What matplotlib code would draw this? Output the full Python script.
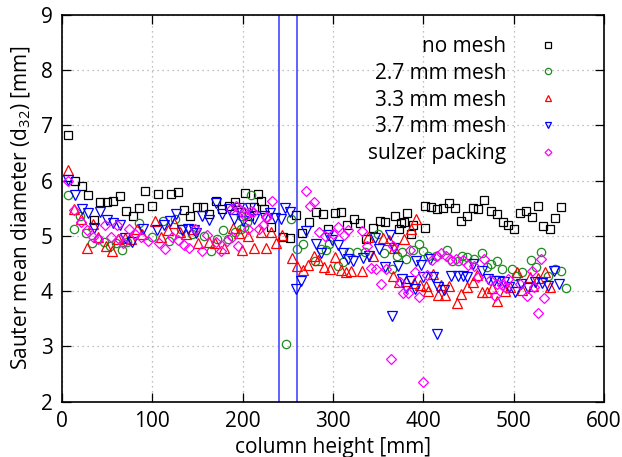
import matplotlib
matplotlib.use("Agg")
import matplotlib.pyplot as plt
from matplotlib.lines import Line2D

plt.rcParams['font.family'] = ['Open Sans', 'DejaVu Sans']
plt.rcParams['mathtext.fontset'] = 'custom'
plt.rcParams['mathtext.rm'] = 'Open Sans'

# ---------------- data ----------------
no_mesh_x = [7, 14, 22, 28.5, 35.5, 42.5, 49.5, 57, 64, 70.7, 78.5, 85.5, 92, 99.6, 106.7,
             120.7, 128, 135, 142, 149, 156, 163, 170, 177, 184.4, 191.5, 198.5, 203, 207, 212.6,
             217, 220, 223.7, 231, 244.4, 252, 259, 266, 273.7, 281, 288.5, 295, 302, 309, 316,
             323, 330, 337, 344, 351.5, 358, 369, 373, 375.5, 379, 382, 386.7, 388.5, 401.5, 401.5,
             409, 415.5, 422, 428, 435, 441.5, 448, 454.5, 460.7, 467.4, 474.4, 481, 488, 494, 500.7,
             507, 513.7, 520, 526.7, 533, 539.7, 546, 552.6]
no_mesh_y = [6.82, 6.0, 5.91, 5.74, 5.29, 5.61, 5.61, 5.63, 5.73, 5.45, 5.36, 5.51, 5.82, 5.54, 5.76,
             5.76, 5.79, 5.47, 5.36, 5.53, 5.53, 5.39, 5.63, 5.49, 5.55, 5.61, 5.43, 5.77, 5.37, 5.52,
             5.76, 5.63, 5.48, 5.17, 4.99, 4.97, 5.38, 5.05, 5.25, 5.43, 5.40, 5.13, 5.41, 5.44, 5.2,
             5.31, 5.24, 4.95, 5.15, 5.28, 5.25, 5.37, 5.13, 5.23, 5.25, 5.41, 5.04, 5.19, 5.14, 5.54,
             5.52, 5.49, 5.50, 5.59, 5.50, 5.27, 5.37, 5.51, 5.48, 5.65, 5.45, 5.40, 5.25, 5.2, 5.13,
             5.42, 5.46, 5.34, 5.55, 5.18, 5.13, 5.32, 5.53]

mesh27_x = [7, 13.7, 20, 26.7, 33.7, 40.4, 47, 53.3, 59.7, 66.3, 72, 85.5, 99.6, 111.5, 119,
            124.8, 132, 144, 157, 165, 172, 178, 184, 191, 198, 198, 201.5, 205, 209, 248,
            253, 260, 267, 280, 286.7, 292, 296, 305, 311.5, 317.4, 326.7, 335.5, 349.6, 357, 365.5,
            371, 376.7, 381, 388.5, 395, 399.6, 405, 414.4, 426.7, 432, 438.5, 443, 448, 456, 464.4,
            470, 474.8, 481, 486.7, 497.8, 503, 509, 519, 525, 530, 538.5, 546, 552.6, 557.8]
mesh27_y = [5.75, 5.13, 5.37, 5.05, 4.87, 4.95, 4.89, 4.81, 4.87, 4.75, 4.89, 5.23, 4.98, 5.28, 4.90,
            5.31, 5.13, 5.04, 5.0, 4.73, 4.95, 5.10, 4.95, 5.07, 5.13, 5.36, 5.17, 5.25, 5.75, 3.05,
            5.31, 4.76, 4.85, 4.54, 4.76, 4.75, 4.85, 4.46, 4.52, 4.71, 4.71, 4.71, 5.04, 4.70, 4.41,
            4.64, 4.71, 4.58, 4.75, 4.85, 4.73, 4.63, 4.63, 4.75, 4.55, 4.55, 4.63, 4.62, 4.58, 4.69,
            4.43, 4.49, 4.55, 4.40, 4.41, 4.28, 4.34, 4.57, 4.43, 4.71, 4.28, 4.40, 4.37, 4.05]

mesh33_x = [7, 13.7, 21, 27.8, 34.8, 40.4, 48.5, 55, 62, 70, 76.7, 83, 88.5, 102.6, 110,
            117.4, 123.7, 131, 137.4, 145, 151, 162.6, 169, 179, 189, 196, 199, 206, 212.6,
            220, 225.6, 231, 237.4, 244, 254.4, 260.7, 266.5, 272.6, 278.5, 283.7, 290.4, 296.5,
            302.6, 308.5, 314.4, 320, 332, 338.5, 344, 355.5, 362.3, 368, 379, 386.5, 391.7, 366.5,
            373.5, 381, 389.5, 396.3, 403.3, 405, 410.7, 416, 420, 423.7, 428.7, 437.8, 442, 448,
            455, 459, 464.4, 470, 475.6, 482, 490.2, 496, 504, 509, 518, 521, 526.7, 535, 540]
mesh33_y = [6.2, 5.49, 5.31, 4.78, 5.21, 4.98, 4.82, 4.72, 4.95, 4.96, 4.95, 5.13, 5.04, 5.28, 4.98,
            5.10, 5.23, 5.08, 5.04, 5.13, 4.87, 4.89, 4.87, 4.78, 5.14, 5.06, 4.75, 5.0, 4.78,
            5.07, 4.79, 5.08, 4.87, 5.01, 4.60, 4.45, 4.39, 4.48, 4.64, 4.57, 4.44, 4.41,
            4.62, 4.38, 4.34, 4.36, 4.36, 4.99, 4.64, 4.97, 4.93, 4.79, 4.95, 5.13, 5.31, 4.28,
            4.17, 4.19, 4.15, 4.12, 4.09, 4.01, 4.31, 3.93, 4.12, 3.93, 4.10, 3.79, 3.95, 4.07,
            4.17, 4.29, 3.98, 3.98, 4.05, 3.82, 4.01, 4.07, 4.35, 4.03, 4.25, 4.10, 4.24, 4.35, 4.07]

mesh37_x = [7, 14.4, 21.9, 28.5, 35.9, 42.6, 49.6, 57, 63.7, 70, 77.4, 89.3, 105, 112.6, 120,
            126, 133, 140, 146, 148, 155, 162.6, 170, 177.4, 184.8, 190, 196, 200.7, 208, 212.6,
            223.7, 230, 235.6, 242, 247, 252.6, 259, 264.4, 270, 281.5, 287, 294, 299, 305, 310.7,
            317, 322.5, 333, 339.6, 346, 351, 357.5, 362.6, 365.5, 368, 372, 376.7, 381, 386, 390.5,
            391.5, 397, 399.6, 407, 410.7, 415.5, 416, 422.8, 431, 438.5, 444, 448, 455, 465, 471.8,
            478, 483.5, 489.6, 495, 501.5, 508.5, 516.3, 523.3, 531, 537.8, 545, 550.7]
mesh37_y = [6.02, 5.75, 5.48, 5.41, 5.15, 5.43, 5.29, 5.23, 5.2, 4.96, 4.89, 5.13, 5.10, 5.19, 5.28,
            5.40, 5.11, 5.13, 5.10, 5.05, 5.37, 5.29, 5.6, 5.39, 5.49, 5.3, 5.5, 5.28, 5.5, 5.3,
            5.37, 5.42, 5.32, 5.31, 5.51, 5.44, 4.04, 4.19, 5.09, 4.85, 4.69, 5.01, 4.93, 4.83, 4.69,
            4.58, 4.54, 4.6, 4.63, 4.97, 4.77, 4.43, 5.02, 3.55, 4.79, 4.46, 4.22, 4.05, 4.19, 4.04,
            4.55, 4.47, 4.25, 4.58, 4.26, 3.22, 4.07, 4.02, 4.28, 4.28, 4.28, 4.25, 4.49, 4.37, 4.22,
            4.18, 4.18, 4.16, 4.08, 3.99, 4.13, 4.06, 4.16, 4.15, 4.1, 4.36, 4.13]

sulzer_x = [7, 13.7, 20.7, 27.4, 34, 40.4, 47.8, 54.4, 60.7, 62.6, 67.4, 74.4, 81, 87.8, 95.2,
            107.8, 114.4, 121.9, 128.5, 134.8, 141, 146.7, 155, 160.8, 170, 175.6, 183, 186.7, 188.5, 193,
            195, 196, 201.5, 202.6, 206, 209, 211.4, 218, 222, 225.6, 227.4, 232, 270, 274.4, 279.5,
            284.8, 291, 299.6, 306, 311.8, 316.3, 332.5, 337.4, 342, 347.8, 353.3, 359, 364.4, 366, 373.7,
            378, 383, 385.6, 390.4, 395.5, 400, 403.8, 409.8, 415.5, 420, 425.5, 430, 436.4, 444.4, 449.6,
            456, 460.7, 467.7, 474, 479, 481, 486.7, 492, 494, 507.5, 515, 520, 522.6, 526.7, 530.5, 534]
sulzer_y = [6.0, 5.47, 5.25, 5.10, 4.99, 4.95, 5.19, 4.98, 5.2, 4.95, 4.87, 5.13, 5.04, 4.98, 4.90,
            4.87, 4.76, 4.98, 4.92, 4.84, 4.79, 5.13, 4.73, 5.01, 4.89, 4.73, 4.91, 5.49, 4.98, 5.55,
            4.81, 5.49, 5.44, 5.37, 5.13, 5.46, 5.44, 5.13, 5.19, 5.34, 5.34, 5.64, 5.81, 5.55, 5.62,
            5.07, 5.0, 5.04, 5.16, 5.01, 5.10, 5.09, 4.81, 4.42, 4.4, 4.13, 4.4, 2.78, 4.82, 4.17,
            3.97, 3.97, 4.75, 4.34, 3.89, 2.35, 4.3, 4.56, 4.63, 4.70, 4.64, 4.58, 4.59, 4.57, 4.47,
            4.45, 4.25, 4.59, 4.21, 3.92, 4.13, 4.11, 4.05, 4.22, 4.13, 3.92, 4.37, 4.08, 3.6, 4.58, 3.87]

vlines_x = [240, 260]
series_labels = ["no mesh", "2.7 mm mesh", "3.3 mm mesh", "3.7 mm mesh", "sulzer packing"]
x_ticks = [0, 100, 200, 300, 400, 500, 600]
y_ticks = [2, 3, 4, 5, 6, 7, 8, 9]

# ---------------- plot ----------------
fig = plt.figure(figsize=(6.22, 4.57), dpi=100)
ax = fig.add_axes([62 / 622, 55.3 / 457, 542 / 622, 386.7 / 457])

FS = 15
colors = ["black", "#1f8c1f", "#ff0000", "#0000ff", "#ff00ff"]
markers = ["s", "o", "^", "v", "D"]
msizes = [6.0, 6.0, 6.5, 6.5, 4.6]
data = [(no_mesh_x, no_mesh_y), (mesh27_x, mesh27_y), (mesh33_x, mesh33_y),
        (mesh37_x, mesh37_y), (sulzer_x, sulzer_y)]

ax.grid(True, linestyle=(0, (1, 3)), color="#aaaaaa", linewidth=0.9)
ax.set_axisbelow(True)

for xv in vlines_x:
    ax.axvline(xv, color="#5555ff", linewidth=1.3, zorder=1)

handles = []
for (xs, ys), c, m, ms, lab in zip(data, colors, markers, msizes, series_labels):
    ax.plot(xs, ys, linestyle="none", marker=m, markersize=ms, markerfacecolor="none",
            markeredgecolor=c, markeredgewidth=0.9, zorder=3)
    handles.append(Line2D([], [], linestyle="none", marker=m, markersize=ms * 0.75,
                          markerfacecolor="none", markeredgecolor=c, markeredgewidth=0.9,
                          label=lab))

ax.set_xlim(0, 600)
ax.set_ylim(2, 9)
ax.set_xticks(x_ticks)
ax.set_yticks(y_ticks)
ax.tick_params(direction="in", length=6.5, width=0.9, top=True, right=True,
               labelsize=FS, pad=6.5)
for s in ax.spines.values():
    s.set_linewidth(1.2)

ax.set_xlabel("column height [mm]", fontsize=FS, labelpad=4)
ax.set_ylabel("Sauter mean diameter (d$_{32}$) [mm]", fontsize=FS, labelpad=6)

leg = ax.legend(handles=handles, loc="upper right", bbox_to_anchor=(0.916, 0.946),
                frameon=False, markerfirst=False, fontsize=FS, handlelength=1.0,
                handletextpad=1.5, labelspacing=0.28, borderpad=0, borderaxespad=0)

fig.savefig("out.png", dpi=100)
